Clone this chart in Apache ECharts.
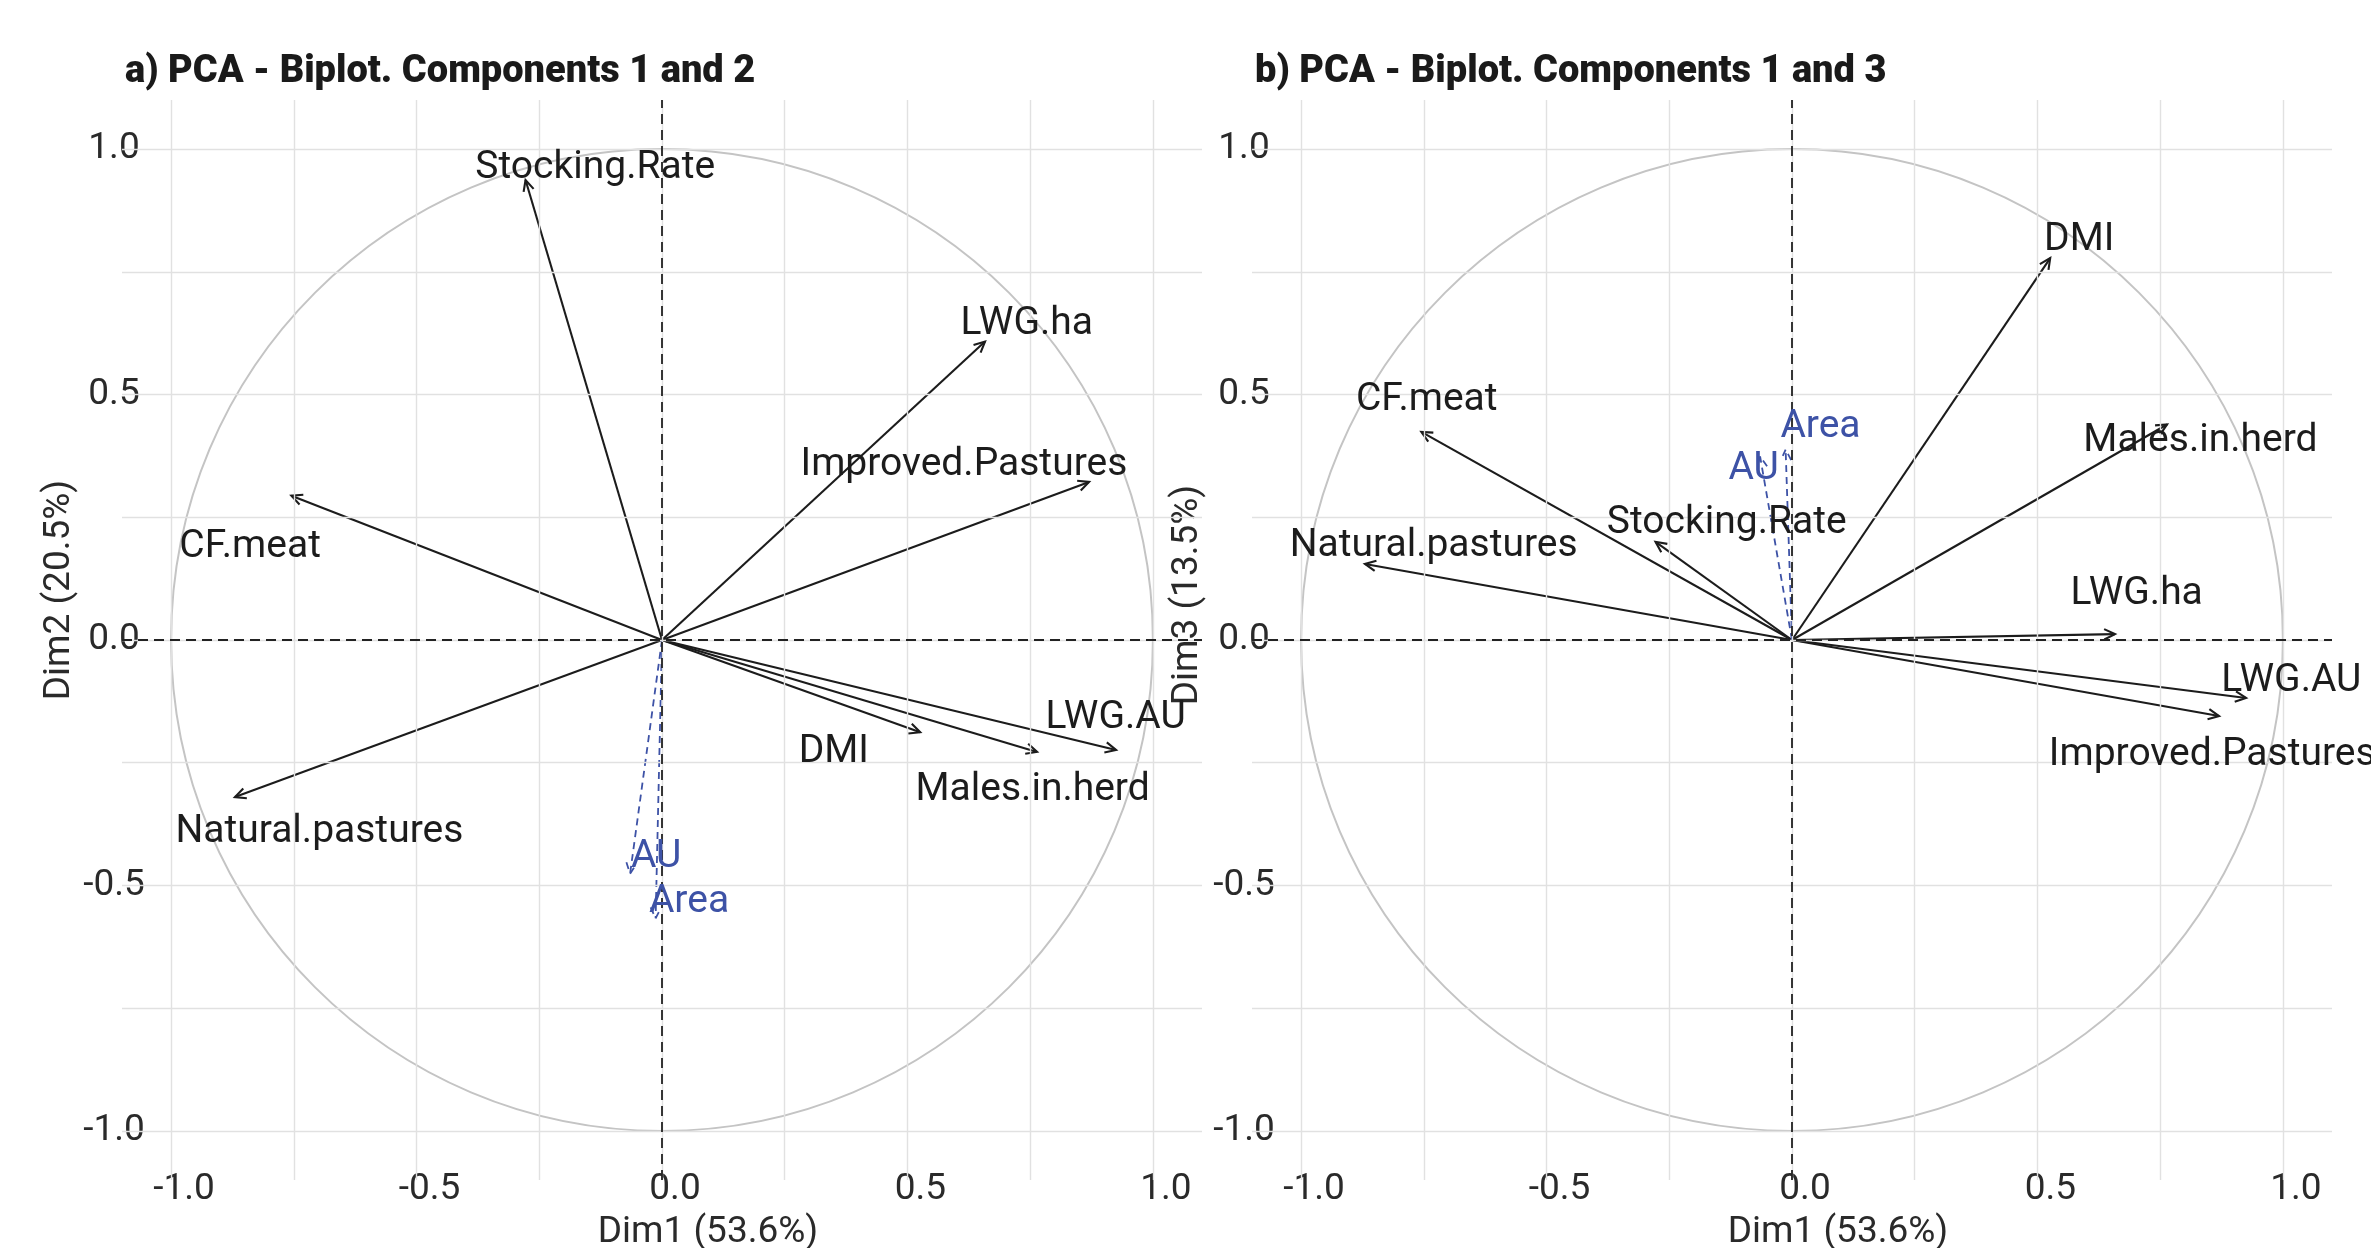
<!DOCTYPE html>
<html>
<head>
<meta charset="utf-8">
<script src="https://cdn.jsdelivr.net/npm/echarts@6/dist/echarts.min.js"></script>
<style>html,body{margin:0;padding:0;background:#fff}#c{width:2371px;height:1248px}</style>
</head>
<body>
<div id="c"></div>
<script>
// ---- data ----
const activeVars = ['Stocking.Rate','LWG.ha','Improved.Pastures','CF.meat','Natural.pastures','DMI','Males.in.herd','LWG.AU'];
const activeDim1 = [-0.278, 0.658, 0.870, -0.755, -0.870, 0.526, 0.764, 0.925];
const activeDim2 = [0.937, 0.608, 0.322, 0.294, -0.320, -0.188, -0.228, -0.224];
const activeDim3 = [0.200, 0.012, -0.155, 0.424, 0.155, 0.778, 0.439, -0.118];
const suppVars = ['AU','Area'];
const suppDim1 = [-0.065, -0.013];
const suppDim2 = [-0.476, -0.567];
const suppDim3 = [0.374, 0.388];
// repelled label anchors (data units)
const activeLabA_x = [-0.136, 0.743, 0.615, -0.839, -0.698, 0.350, 0.755, 0.924];
const activeLabA_y = [0.969, 0.651, 0.365, 0.198, -0.384, -0.220, -0.297, -0.152];
const suppLabA_x = [-0.012, 0.055];
const suppLabA_y = [-0.435, -0.527];
const activeLabB_x = [-0.133, 0.702, 0.856, -0.744, -0.730, 0.585, 0.832, 1.017];
const activeLabB_y = [0.246, 0.102, -0.226, 0.497, 0.199, 0.823, 0.413, -0.075];
const suppLabB_x = [-0.078, 0.058];
const suppLabB_y = [0.356, 0.441];
const gridTicks = [-1, -0.75, -0.5, -0.25, 0, 0.25, 0.5, 0.75, 1];
const labelTicks = [-1, -0.5, 0, 0.5, 1];
const titles = ['a) PCA - Biplot. Components 1 and 2', 'b) PCA - Biplot. Components 1 and 3'];
const xTitles = ['Dim1 (53.6%)', 'Dim1 (53.6%)'];
const yTitles = ['Dim2 (20.5%)', 'Dim3 (13.5%)'];

const FONT = 'Roboto, "Noto Sans", sans-serif';
const BLACK = '#1c1c1c';
const BLUE = '#3d52a6';

function zip(a, b) { return a.map((v, i) => [v, b[i]]); }

function axisPair(i) {
  const common = {
    type: 'value', min: -1.1, max: 1.1, gridIndex: i,
    splitLine: {show: false}, axisLine: {show: false}, axisTick: {show: false, customValues: labelTicks},
  };
  return {
    x: Object.assign({}, common, {
      axisLabel: {customValues: labelTicks, formatter: v => v.toFixed(1), color: '#2a2a2a', fontSize: 37, fontFamily: FONT,
        margin: 10, verticalAlign: 'middle', padding: [0, 0, 0, 26]}
    }),
    y: Object.assign({}, common, {
      axisLabel: {customValues: labelTicks, formatter: v => v.toFixed(1), color: '#2a2a2a', fontSize: 37, fontFamily: FONT,
        margin: 8, align: 'center', padding: [0, 0, 12, 0]}
    })
  };
}

function arrowRender(color, dashed) {
  return function (params, api) {
    const o = api.coord([0, 0]);
    const t = api.coord([api.value(0), api.value(1)]);
    const ang = Math.atan2(t[1] - o[1], t[0] - o[0]);
    const L = 12, a = Math.PI / 7;
    const p1 = [t[0] - L * Math.cos(ang - a), t[1] - L * Math.sin(ang - a)];
    const p2 = [t[0] - L * Math.cos(ang + a), t[1] - L * Math.sin(ang + a)];
    const style = {stroke: color, lineWidth: dashed ? 1.8 : 2.1, fill: null, lineDash: dashed ? [7, 5] : null};
    return {type: 'group', children: [
      {type: 'line', shape: {x1: o[0], y1: o[1], x2: t[0], y2: t[1]}, style: style},
      {type: 'polyline', shape: {points: [p1, t, p2]}, style: style}
    ]};
  };
}

function labelRender(names, color) {
  return function (params, api) {
    const p = api.coord([api.value(0), api.value(1)]);
    return {type: 'text', x: p[0], y: p[1] + 4, style: {
      text: names[params.dataIndex], fill: color, fontSize: 39, fontFamily: FONT,
      align: 'center', verticalAlign: 'middle'}};
  };
}

function circleRender(params, api) {
  const c = api.coord([api.value(0), api.value(1)]);
  const r = api.size([1, 1]);
  return {type: 'ellipse', shape: {cx: c[0], cy: c[1], rx: r[0], ry: r[1]},
    style: {stroke: '#c4c4c4', fill: null, lineWidth: 2}};
}

function panelSeries(i, ad, sd, alx, aly, slx, sly) {
  const idx = {xAxisIndex: i, yAxisIndex: i};
  return [
    Object.assign({type: 'custom', z: 1, silent: true, data: [[0, 0]], renderItem: circleRender,
      markLine: {silent: true, symbol: 'none', label: {show: false}, animation: false,
        lineStyle: {color: '#e1e1e1', type: 'solid', width: 1.4},
        data: gridTicks.map(v => ({xAxis: v})).concat(gridTicks.map(v => ({yAxis: v})))}
    }, idx),
    Object.assign({type: 'custom', z: 3, silent: true, data: [[0, 0]], renderItem: () => ({type: 'group', children: []}),
      markLine: {silent: true, symbol: 'none', label: {show: false}, animation: false,
        lineStyle: {color: '#222', type: [10, 6], width: 1.8},
        data: [{xAxis: 0}, {yAxis: 0}]}
    }, idx),
    Object.assign({type: 'custom', z: 4, silent: true, clip: false, data: zip(activeDim1, ad), renderItem: arrowRender(BLACK, false)}, idx),
    Object.assign({type: 'custom', z: 4, silent: true, clip: false, data: zip(suppDim1, sd), renderItem: arrowRender(BLUE, true)}, idx),
    Object.assign({type: 'custom', z: 5, silent: true, clip: false, data: zip(alx, aly), renderItem: labelRender(activeVars, BLACK)}, idx),
    Object.assign({type: 'custom', z: 5, silent: true, clip: false, data: zip(slx, sly), renderItem: labelRender(suppVars, BLUE)}, idx)
  ];
}

const a0 = axisPair(0), a1 = axisPair(1);
const chart = echarts.init(document.getElementById('c'), null, {renderer: 'canvas'});
const titleStyle = {fontSize: 38, fontWeight: 900, fontFamily: FONT, color: '#1a1a1a'};
chart.setOption({
  backgroundColor: '#fff',
  animation: false,
  title: [
    {text: titles[0], left: 120, top: 48, textStyle: titleStyle},
    {text: titles[1], left: 1250, top: 48, textStyle: titleStyle}
  ],
  grid: [
    {left: 122, top: 100, width: 1080, height: 1080},
    {left: 1252, top: 100, width: 1080, height: 1080}
  ],
  xAxis: [a0.x, a1.x],
  yAxis: [a0.y, a1.y],
  graphic: [
    {type: 'text', x: 708, y: 1233, style: {text: xTitles[0], fontSize: 37, fontFamily: FONT, fill: '#2a2a2a', align: 'center', verticalAlign: 'middle'}},
    {type: 'text', x: 1838, y: 1233, style: {text: xTitles[1], fontSize: 37, fontFamily: FONT, fill: '#2a2a2a', align: 'center', verticalAlign: 'middle'}},
    {type: 'text', x: 60, y: 590, rotation: Math.PI / 2, style: {text: yTitles[0], fontSize: 37, fontFamily: FONT, fill: '#2a2a2a', align: 'center', verticalAlign: 'middle'}},
    {type: 'text', x: 1188, y: 595, rotation: Math.PI / 2, style: {text: yTitles[1], fontSize: 37, fontFamily: FONT, fill: '#2a2a2a', align: 'center', verticalAlign: 'middle'}}
  ],
  series: panelSeries(0, activeDim2, suppDim2, activeLabA_x, activeLabA_y, suppLabA_x, suppLabA_y)
    .concat(panelSeries(1, activeDim3, suppDim3, activeLabB_x, activeLabB_y, suppLabB_x, suppLabB_y))
});
</script>
</body>
</html>
